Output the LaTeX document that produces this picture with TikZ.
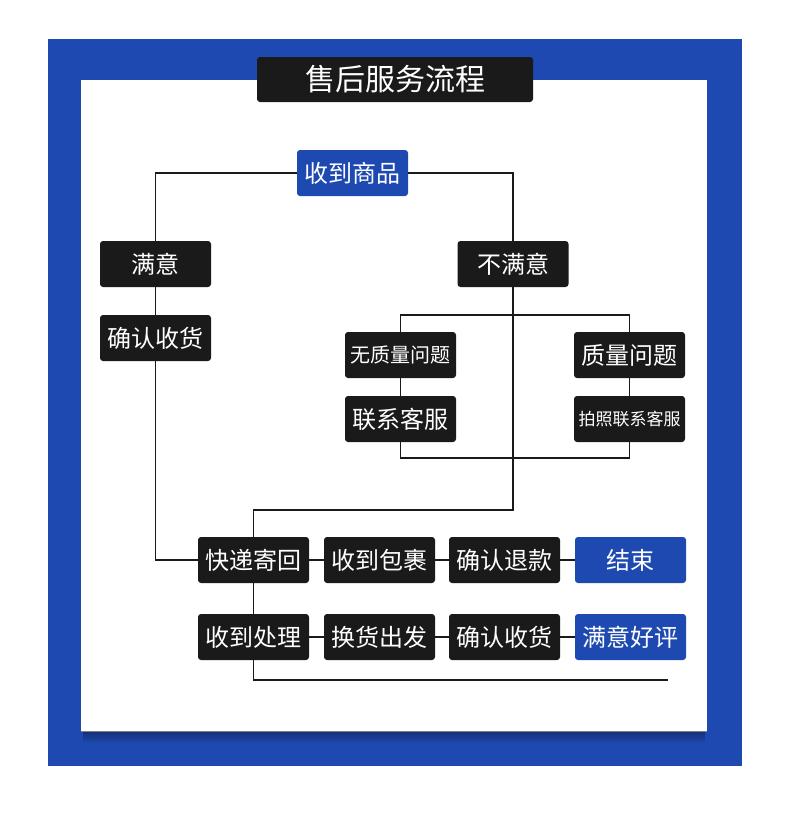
\documentclass[tikz,border=0pt]{standalone}
\usepackage{fontspec}
\setmainfont{Noto Sans CJK SC}
\usepackage{tikz}
\usetikzlibrary{positioning}
\definecolor{shblue}{HTML}{1D49B0}
\definecolor{shdark}{HTML}{1A1A1A}

\begin{document}
\begin{tikzpicture}[x=1pt, y=-1pt,
  box/.style={rectangle, rounded corners=3pt, fill=shdark, text=white, minimum width=111pt,
    minimum height=46pt, inner sep=0pt, font=\fontsize{24}{24}\selectfont},
  bluebox/.style={box, fill=shblue},
  link/.style={draw=shdark, line width=1.1pt}]
\useasboundingbox (0,0) rectangle (790,823);
% frame
\fill[white] (0,0) rectangle (790,823);
\fill[shblue] (48,39) rectangle (742,766);
\shade[top color=black!35!shblue, bottom color=shblue] (83,731) rectangle (705,743);
\fill[white] (81,80) rectangle (707,731);
\draw[gray, line width=0.8pt] (81,731) -- (707,731);
\node[box, minimum width=276pt, minimum height=45pt, font=\fontsize{30}{30}\selectfont] (title) at (395,79.5) {售后服务流程};

% top part
\node[bluebox] (goods) at (352.5,173) {收到商品};
\node[box] (ok) at (155.5,264) {满意};
\node[box] (notok) at (513,264) {不满意};
\node[box] (okconfirm) at (155.5,338) {确认收货};
\node[box, font=\fontsize{20}{20}\selectfont] (noq) at (400.5,355) {无质量问题};
\node[box] (q) at (629.5,355) {质量问题};
\node[box] (contact) at (400.5,419) {联系客服};
\node[box, font=\fontsize{17}{17}\selectfont] (photo) at (629.5,419) {拍照联系客服};

% bottom rows
\node[box] (send) at (253.5,560) {快递寄回};
\node[box] (parcel) at (379.5,560) {收到包裹};
\node[box] (refund) at (504.5,560) {确认退款};
\node[bluebox] (finish) at (630.5,560) {结束};
\node[box] (handle) at (253.5,637) {收到处理};
\node[box] (ship) at (379.5,637) {换货出发};
\node[box] (receive) at (504.5,637) {确认收货};
\node[bluebox] (praise) at (630.5,637) {满意好评};

\coordinate (split) at (513,315);
\coordinate (join) at (513,458);
\coordinate (turn) at (513,510);
\coordinate (tail) at (668,680);

% connectors
\draw[link] (goods.west) -| (ok.north);
\draw[link] (goods.east) -| (notok.north);
\draw[link] (ok) -- (okconfirm);
\draw[link] (okconfirm.south) |- (send.west);
\draw[link] (notok.south) -- (turn) -| (send.north);
\draw[link] (noq.north) |- (split) -| (q.north);
\draw[link] (contact.south) |- (join) -| (photo.south);
\draw[link] (noq) -- (contact);
\draw[link] (q) -- (photo);
\draw[link] (send) -- (parcel) -- (refund) -- (finish);
\draw[link] (handle) -- (ship) -- (receive) -- (praise);
\draw[link] (send) -- (handle);
\draw[link] (handle.south) |- (tail);
\end{tikzpicture}
\end{document}
